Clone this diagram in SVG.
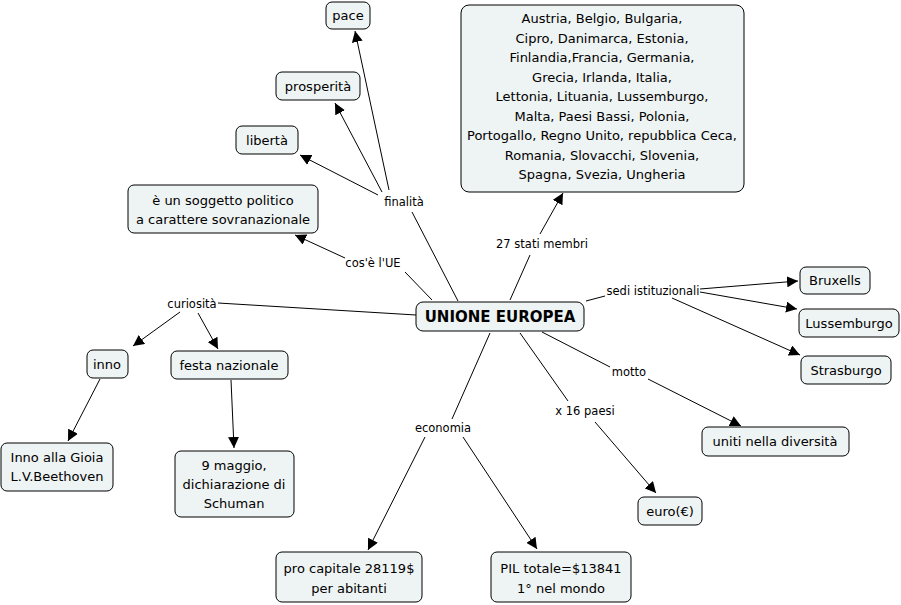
<svg xmlns="http://www.w3.org/2000/svg" width="901" height="605" viewBox="0 0 901 605">
<style>
.n rect{fill:#eef3f3;stroke:#000;stroke-width:1}
text{font-family:"DejaVu Sans","Liberation Sans",sans-serif;font-size:13px;text-anchor:middle;fill:#000}
.l{font-size:11.5px}
.c line{stroke:#000;stroke-width:1}
.a{marker-end:url(#ar)}
</style>
<defs><marker id="ar" viewBox="0 0 10 10" refX="10" refY="5" markerWidth="11" markerHeight="11" markerUnits="userSpaceOnUse" orient="auto"><path d="M0,0L10,5L0,10z"/></marker></defs>
<rect width="901" height="605" fill="#fff"/>
<g class="c">
<line x1="458" y1="301" x2="412" y2="212"/>
<line class="a" x1="389" y1="190" x2="355" y2="31"/>
<line class="a" x1="382" y1="192" x2="335" y2="103"/>
<line class="a" x1="378" y1="195" x2="300" y2="155"/>
<line x1="432" y1="300" x2="405" y2="272"/>
<line class="a" x1="345" y1="258" x2="295" y2="235"/>
<line x1="510" y1="300" x2="530" y2="255"/>
<line class="a" x1="540" y1="234" x2="563" y2="193"/>
<line x1="586" y1="301" x2="605" y2="296"/>
<line class="a" x1="700" y1="289" x2="798" y2="281"/>
<line class="a" x1="700" y1="292" x2="797" y2="309"/>
<line class="a" x1="672" y1="298" x2="800" y2="355"/>
<line x1="416" y1="315" x2="218" y2="303"/>
<line class="a" x1="180" y1="312" x2="133" y2="346"/>
<line class="a" x1="198" y1="313" x2="218" y2="349"/>
<line class="a" x1="100" y1="379" x2="68" y2="441"/>
<line class="a" x1="231" y1="380" x2="234" y2="448"/>
<line x1="542" y1="332" x2="610" y2="367"/>
<line class="a" x1="648" y1="379" x2="741" y2="426"/>
<line x1="520" y1="333" x2="568" y2="401"/>
<line class="a" x1="595" y1="422" x2="656" y2="493"/>
<line x1="490" y1="333" x2="452" y2="419"/>
<line class="a" x1="425" y1="437" x2="368" y2="550"/>
<line class="a" x1="463" y1="437" x2="537" y2="549"/>
</g>
<g>
<text class="l" x="404" y="206">finalità</text>
<text class="l" x="373" y="267">cos'è l'UE</text>
<text class="l" x="542" y="248">27 stati membri</text>
<text class="l" x="653" y="295">sedi istituzionali</text>
<text class="l" x="192" y="308">curiosità</text>
<text class="l" x="629" y="376">motto</text>
<text class="l" x="585" y="415">x 16 paesi</text>
<text class="l" x="443" y="432">economia</text>
</g>
<g id="pace" class="n"><rect x="326" y="2" width="44" height="27" rx="6"/><text x="348" y="20">pace</text></g>
<g id="prosperita" class="n"><rect x="276" y="72" width="84" height="28" rx="6"/><text x="318" y="91">prosperità</text></g>
<g id="liberta" class="n"><rect x="236" y="126" width="62" height="28" rx="6"/><text x="267" y="145">libertà</text></g>
<g id="soggetto" class="n"><rect x="128" y="185" width="190" height="48" rx="6"/><text x="223" y="205">è un soggetto politico</text><text x="223" y="224">a carattere sovranazionale</text></g>
<g id="stati" class="n"><rect x="461" y="5" width="283" height="187" rx="8"/>
<text x="602" y="23">Austria, Belgio, Bulgaria,</text>
<text x="602" y="43">Cipro, Danimarca, Estonia,</text>
<text x="602" y="62">Finlandia,Francia, Germania,</text>
<text x="602" y="82">Grecia, Irlanda, Italia,</text>
<text x="602" y="101">Lettonia, Lituania, Lussemburgo,</text>
<text x="602" y="121">Malta, Paesi Bassi, Polonia,</text>
<text x="602" y="140">Portogallo, Regno Unito, repubblica Ceca,</text>
<text x="602" y="160">Romania, Slovacchi, Slovenia,</text>
<text x="602" y="179">Spagna, Svezia, Ungheria</text></g>
<g id="ue" class="n"><rect x="416" y="302" width="168" height="29" rx="7"/><text x="500" y="322" style="font-size:15px;font-weight:bold">UNIONE EUROPEA</text></g>
<g id="bruxells" class="n"><rect x="800" y="267" width="70" height="27" rx="6"/><text x="835" y="285">Bruxells</text></g>
<g id="lussemburgo" class="n"><rect x="799" y="309" width="100" height="28" rx="6"/><text x="849" y="328">Lussemburgo</text></g>
<g id="strasburgo" class="n"><rect x="801" y="356" width="90" height="28" rx="6"/><text x="846" y="375">Strasburgo</text></g>
<g id="uniti" class="n"><rect x="702" y="427" width="147" height="29" rx="6"/><text x="775" y="446">uniti nella diversità</text></g>
<g id="euro" class="n"><rect x="638" y="497" width="64" height="28" rx="6"/><text x="670" y="516">euro(€)</text></g>
<g id="pil" class="n"><rect x="491" y="552" width="140" height="50" rx="6"/><text x="561" y="573">PIL totale=$13841</text><text x="561" y="593">1° nel mondo</text></g>
<g id="procapite" class="n"><rect x="276" y="552" width="146" height="50" rx="6"/><text x="349" y="573">pro capitale 28119$</text><text x="349" y="593">per abitanti</text></g>
<g id="maggio" class="n"><rect x="175" y="451" width="119" height="66" rx="6"/><text x="234" y="470">9 maggio,</text><text x="234" y="489">dichiarazione di</text><text x="234" y="508">Schuman</text></g>
<g id="festa" class="n"><rect x="171" y="351" width="117" height="28" rx="6"/><text x="229" y="370">festa nazionale</text></g>
<g id="inno" class="n"><rect x="87" y="350" width="41" height="28" rx="6"/><text x="107" y="369">inno</text></g>
<g id="gioia" class="n"><rect x="1" y="443" width="112" height="48" rx="6"/><text x="57" y="462">Inno alla Gioia</text><text x="57" y="481">L.V.Beethoven</text></g>
</svg>
